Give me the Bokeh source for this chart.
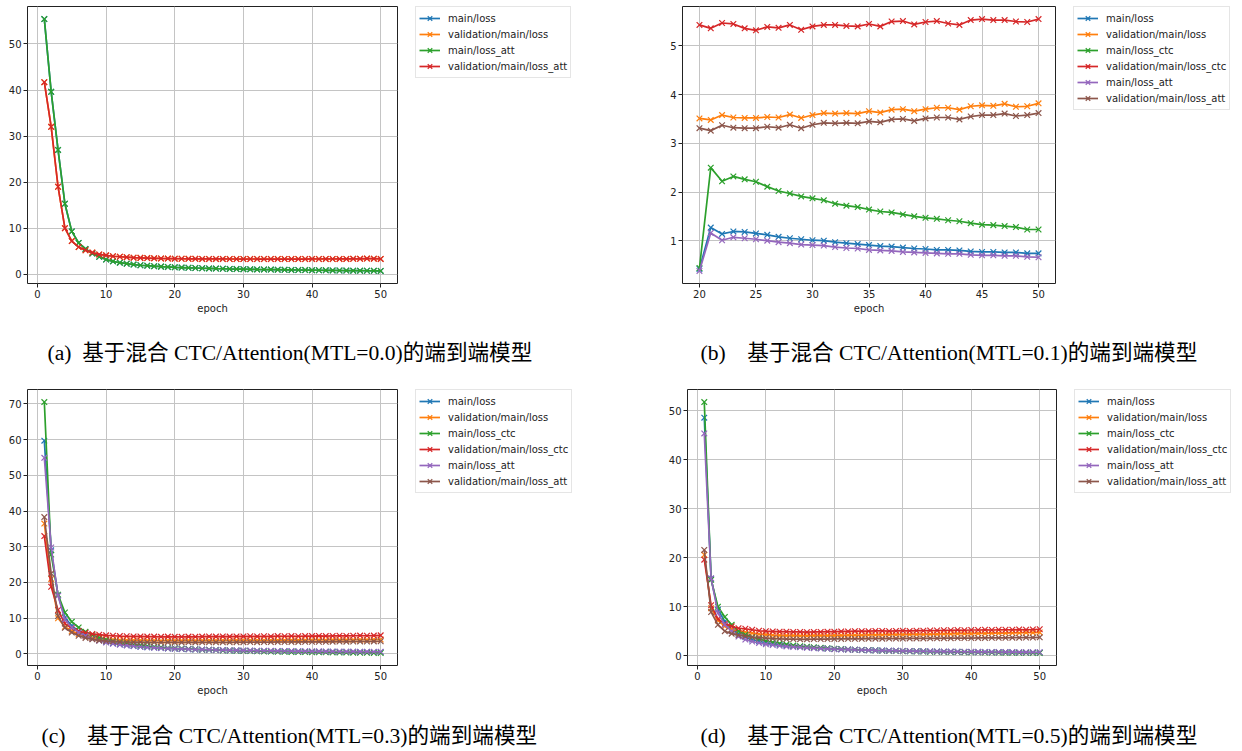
from bokeh.plotting import figure
from bokeh.models import Legend, LegendItem, Label, FixedTicker, Spacer, Range1d
from bokeh.layouts import column, row
from bokeh.embed import file_html
from bokeh.resources import INLINE

# ---------------- data ----------------
epochs_full = list(range(1, 51))
epochs_b = list(range(20, 51))

labels4 = ["main/loss", "validation/main/loss", "main/loss_att", "validation/main/loss_att"]
labels6 = ["main/loss", "validation/main/loss", "main/loss_ctc", "validation/main/loss_ctc",
           "main/loss_att", "validation/main/loss_att"]

# (a) MTL=0.0  (main/loss identical to main/loss_att, validation likewise)
a_att = [55.4, 39.6, 27.0, 15.3, 9.3, 6.8, 5.5, 4.5, 3.8, 3.2, 2.8, 2.5, 2.3, 2.1, 1.95, 1.85, 1.75, 1.65,
         1.58, 1.5, 1.45, 1.4, 1.35, 1.3, 1.26, 1.22, 1.19, 1.15, 1.12, 1.1, 1.07, 1.04, 1.02, 1.0, 0.98,
         0.96, 0.94, 0.92, 0.9, 0.88, 0.86, 0.85, 0.83, 0.81, 0.8, 0.78, 0.77, 0.75, 0.74, 0.72]
a_val_att = [41.7, 32.0, 19.0, 10.0, 7.2, 5.9, 5.2, 4.7, 4.3, 4.1, 3.9, 3.8, 3.7, 3.6, 3.55, 3.5, 3.45, 3.42,
             3.4, 3.38, 3.36, 3.35, 3.34, 3.33, 3.33, 3.32, 3.32, 3.31, 3.31, 3.3, 3.31, 3.3, 3.31, 3.3, 3.3,
             3.31, 3.3, 3.31, 3.3, 3.32, 3.31, 3.32, 3.31, 3.33, 3.32, 3.34, 3.35, 3.4, 3.38, 3.32]
a_loss = a_att
a_val_loss = a_val_att

# (b) MTL=0.1, epochs 20..50
b_loss = [0.42, 1.27, 1.14, 1.19, 1.18, 1.15, 1.12, 1.08, 1.05, 1.03, 1.01, 1.0, 0.97, 0.95, 0.93, 0.91,
          0.89, 0.88, 0.86, 0.84, 0.83, 0.81, 0.81, 0.8, 0.78, 0.77, 0.77, 0.76, 0.76, 0.74, 0.74]
b_val_loss = [3.51, 3.48, 3.58, 3.53, 3.52, 3.52, 3.54, 3.53, 3.59, 3.52, 3.58, 3.62, 3.61, 3.62, 3.61,
              3.66, 3.63, 3.69, 3.7, 3.66, 3.7, 3.73, 3.73, 3.69, 3.76, 3.78, 3.77, 3.81, 3.75, 3.76, 3.82]
b_ctc = [0.44, 2.5, 2.22, 2.32, 2.26, 2.21, 2.11, 2.02, 1.97, 1.91, 1.87, 1.83, 1.76, 1.72, 1.69, 1.64,
         1.6, 1.58, 1.54, 1.5, 1.47, 1.45, 1.42, 1.4, 1.36, 1.33, 1.32, 1.3, 1.28, 1.23, 1.23]
b_val_ctc = [5.43, 5.36, 5.47, 5.45, 5.36, 5.32, 5.39, 5.37, 5.43, 5.33, 5.4, 5.43, 5.43, 5.41, 5.4, 5.45,
             5.4, 5.5, 5.51, 5.44, 5.49, 5.51, 5.46, 5.43, 5.53, 5.55, 5.53, 5.53, 5.5, 5.49, 5.55]
b_att = [0.38, 1.16, 1.01, 1.07, 1.05, 1.03, 1.0, 0.97, 0.95, 0.92, 0.91, 0.9, 0.87, 0.85, 0.84, 0.81,
         0.8, 0.79, 0.77, 0.76, 0.75, 0.74, 0.73, 0.73, 0.71, 0.7, 0.7, 0.69, 0.69, 0.67, 0.66]
b_val_att = [3.31, 3.26, 3.37, 3.32, 3.31, 3.31, 3.34, 3.32, 3.38, 3.31, 3.38, 3.42, 3.41, 3.42, 3.41,
             3.45, 3.43, 3.49, 3.5, 3.46, 3.51, 3.53, 3.53, 3.49, 3.55, 3.58, 3.58, 3.61, 3.56, 3.58, 3.62]

# (c) MTL=0.3
c_loss = [59.7, 29.0, 16.4, 10.2, 7.9, 6.4, 5.3, 4.5, 3.9, 3.4, 3.0, 2.7, 2.45, 2.25, 2.05, 1.9, 1.78,
          1.66, 1.56, 1.47, 1.39, 1.32, 1.25, 1.19, 1.13, 1.08, 1.03, 0.99, 0.95, 0.91, 0.88, 0.85, 0.82,
          0.79, 0.76, 0.74, 0.71, 0.69, 0.67, 0.65, 0.63, 0.61, 0.59, 0.58, 0.56, 0.55, 0.53, 0.52, 0.5, 0.49]
c_val_loss = [36.5, 21.0, 10.0, 7.6, 6.4, 5.5, 4.9, 4.5, 4.3, 4.1, 4.0, 3.9, 3.85, 3.8, 3.8, 3.75, 3.75,
              3.7, 3.75, 3.72, 3.72, 3.75, 3.72, 3.75, 3.78, 3.75, 3.78, 3.76, 3.8, 3.8, 3.82, 3.8, 3.84,
              3.82, 3.86, 3.85, 3.88, 3.86, 3.9, 3.9, 3.92, 3.9, 3.94, 3.96, 3.95, 3.98, 4.0, 3.98, 4.02, 4.05]
c_ctc = [70.5, 27.8, 16.6, 11.6, 9.0, 7.4, 6.2, 5.3, 4.6, 4.0, 3.6, 3.2, 2.9, 2.6, 2.4, 2.2, 2.0, 1.85,
         1.7, 1.6, 1.5, 1.4, 1.3, 1.2, 1.15, 1.08, 1.0, 0.95, 0.9, 0.85, 0.8, 0.76, 0.72, 0.68, 0.65, 0.62,
         0.58, 0.55, 0.52, 0.5, 0.47, 0.45, 0.42, 0.4, 0.38, 0.36, 0.34, 0.32, 0.3, 0.28]
c_val_ctc = [33.0, 18.8, 12.3, 8.5, 7.2, 6.4, 5.9, 5.6, 5.4, 5.2, 5.1, 5.0, 4.95, 4.9, 4.9, 4.85, 4.85,
             4.8, 4.85, 4.8, 4.8, 4.85, 4.8, 4.85, 4.9, 4.85, 4.9, 4.85, 4.9, 4.9, 4.95, 4.9, 4.95, 4.9,
             5.0, 4.95, 5.0, 4.95, 5.0, 5.0, 5.05, 5.0, 5.05, 5.1, 5.05, 5.1, 5.15, 5.1, 5.15, 5.2]
c_att = [54.9, 29.8, 16.3, 9.6, 7.4, 6.0, 5.0, 4.2, 3.7, 3.2, 2.85, 2.6, 2.4, 2.2, 2.02, 1.88, 1.76, 1.65,
         1.56, 1.48, 1.41, 1.34, 1.28, 1.23, 1.18, 1.13, 1.09, 1.05, 1.02, 0.98, 0.95, 0.92, 0.9, 0.87,
         0.85, 0.83, 0.81, 0.79, 0.77, 0.75, 0.73, 0.72, 0.7, 0.69, 0.67, 0.66, 0.65, 0.64, 0.62, 0.61]
c_val_att = [38.3, 22.5, 10.6, 7.3, 6.0, 5.1, 4.5, 4.1, 3.8, 3.6, 3.5, 3.4, 3.35, 3.3, 3.3, 3.25, 3.25,
             3.2, 3.25, 3.22, 3.22, 3.25, 3.22, 3.25, 3.28, 3.25, 3.28, 3.26, 3.3, 3.3, 3.32, 3.3, 3.34,
             3.32, 3.36, 3.35, 3.38, 3.36, 3.4, 3.4, 3.42, 3.4, 3.44, 3.46, 3.45, 3.48, 3.5, 3.48, 3.52, 3.55]

# (d) MTL=0.5
d_loss = [48.6, 15.7, 9.4, 7.0, 5.4, 4.5, 3.8, 3.3, 2.95, 2.65, 2.45, 2.25, 2.1, 1.95, 1.82, 1.72, 1.62,
          1.53, 1.46, 1.39, 1.33, 1.27, 1.22, 1.17, 1.13, 1.09, 1.05, 1.02, 0.99, 0.96, 0.93, 0.91, 0.89,
          0.86, 0.84, 0.82, 0.8, 0.79, 0.77, 0.75, 0.74, 0.73, 0.71, 0.7, 0.69, 0.68, 0.67, 0.66, 0.65, 0.64]
d_val_loss = [20.6, 9.7, 7.2, 6.0, 5.4, 5.1, 4.8, 4.6, 4.4, 4.3, 4.2, 4.15, 4.1, 4.1, 4.05, 4.05, 4.1,
              4.1, 4.1, 4.15, 4.15, 4.2, 4.2, 4.2, 4.25, 4.25, 4.25, 4.3, 4.3, 4.3, 4.35, 4.35, 4.35, 4.4,
              4.4, 4.45, 4.45, 4.5, 4.5, 4.5, 4.55, 4.55, 4.6, 4.6, 4.6, 4.65, 4.65, 4.7, 4.7, 4.75]
d_ctc = [51.8, 15.5, 10.0, 7.9, 6.3, 5.0, 4.3, 3.8, 3.4, 3.0, 2.75, 2.5, 2.3, 2.1, 1.95, 1.82, 1.7, 1.6,
         1.5, 1.42, 1.35, 1.28, 1.22, 1.16, 1.11, 1.06, 1.02, 0.98, 0.95, 0.92, 0.89, 0.86, 0.84, 0.81,
         0.79, 0.77, 0.75, 0.73, 0.71, 0.69, 0.68, 0.66, 0.65, 0.63, 0.62, 0.6, 0.59, 0.58, 0.57, 0.56]
d_val_ctc = [19.6, 10.3, 7.5, 6.5, 6.0, 5.6, 5.5, 5.3, 5.1, 5.0, 4.95, 4.9, 4.9, 4.85, 4.85, 4.8, 4.85,
             4.85, 4.9, 4.9, 4.95, 4.95, 5.0, 5.0, 5.0, 5.05, 5.05, 5.0, 5.05, 5.1, 5.05, 5.1, 5.1, 5.15,
             5.15, 5.2, 5.2, 5.25, 5.2, 5.25, 5.25, 5.3, 5.25, 5.3, 5.3, 5.3, 5.35, 5.3, 5.35, 5.4]
d_att = [45.4, 15.8, 8.7, 6.3, 5.0, 3.9, 3.3, 2.9, 2.6, 2.35, 2.18, 2.03, 1.9, 1.8, 1.7, 1.61, 1.53, 1.46,
         1.4, 1.34, 1.29, 1.24, 1.19, 1.15, 1.12, 1.08, 1.05, 1.02, 0.99, 0.97, 0.95, 0.93, 0.91, 0.89,
         0.87, 0.85, 0.84, 0.82, 0.81, 0.8, 0.78, 0.77, 0.76, 0.75, 0.74, 0.73, 0.72, 0.71, 0.7, 0.7]
d_val_att = [21.6, 8.9, 6.3, 5.0, 4.5, 4.2, 4.0, 3.8, 3.7, 3.6, 3.5, 3.45, 3.4, 3.4, 3.35, 3.35, 3.4, 3.4,
             3.4, 3.42, 3.42, 3.45, 3.45, 3.45, 3.48, 3.48, 3.48, 3.5, 3.5, 3.5, 3.52, 3.52, 3.52, 3.55,
             3.55, 3.58, 3.58, 3.6, 3.6, 3.6, 3.62, 3.62, 3.65, 3.65, 3.65, 3.68, 3.68, 3.7, 3.7, 3.75]

xticks_a = [0, 10, 20, 30, 40, 50]
xticks_b = [20, 25, 30, 35, 40, 45, 50]
yticks_a = [0, 10, 20, 30, 40, 50]
yticks_b = [1, 2, 3, 4, 5]
yticks_c = [0, 10, 20, 30, 40, 50, 60, 70]
yticks_d = [0, 10, 20, 30, 40, 50]

captions = [
    "(a)\u00a0\u00a0基于混合 CTC/Attention(MTL=0.0)的端到端模型",
    "(b)\u00a0\u00a0\u00a0\u00a0基于混合 CTC/Attention(MTL=0.1)的端到端模型",
    "(c)\u00a0\u00a0\u00a0\u00a0基于混合 CTC/Attention(MTL=0.3)的端到端模型",
    "(d)\u00a0\u00a0\u00a0\u00a0基于混合 CTC/Attention(MTL=0.5)的端到端模型",
]

colors = ["#1f77b4", "#ff7f0e", "#2ca02c", "#d62728", "#9467bd", "#8c564b"]

FONT = "DejaVu Sans"
CAP_FONT = "Liberation Serif, Noto Sans CJK SC"


def make_panel(x, series, xticks, yticks, left, frame_w, frame_h, top, bottom):
    p = figure(frame_width=frame_w, frame_height=frame_h, output_backend="svg",
               toolbar_location=None, min_border_left=left, min_border_right=1,
               min_border_top=top, min_border_bottom=bottom)
    for i, ys in enumerate(series):
        c = colors[i]
        p.line(x, ys, line_color=c, line_width=1.7)
        p.scatter(x, ys, marker="x", size=8, line_color=c, line_width=1.2)

    xax = p.below[0]
    yax = p.left[0]
    xax.ticker = FixedTicker(ticks=xticks)
    yax.ticker = FixedTicker(ticks=yticks)
    xax.axis_label = "epoch"
    xax.axis_label_text_font = FONT
    xax.axis_label_text_font_size = "10px"
    xax.axis_label_text_font_style = "normal"
    xax.axis_label_text_color = "#222222"
    xax.axis_label_standoff = 2
    for ax in (xax, yax):
        ax.major_label_text_font = FONT
        ax.major_label_text_font_size = "10px"
        ax.major_label_text_color = "#222222"
        ax.major_label_standoff = 2
        ax.major_tick_out = 4
        ax.major_tick_in = 0
        ax.major_tick_line_color = "#222222"
        ax.minor_tick_line_color = None
        ax.axis_line_color = None
    p.grid.grid_line_color = "#c4c4c4"
    p.grid.grid_line_width = 1
    p.outline_line_color = "#222222"
    p.outline_line_alpha = 1
    p.outline_line_width = 1
    return p


def make_legend(x, series, labels, width, height, top):
    # a separate frame that only carries the legend; its series lie outside its ranges
    q = figure(width=width, height=height, output_backend="svg", toolbar_location=None,
               x_axis_type=None, y_axis_type=None, x_range=Range1d(-20, -10),
               y_range=Range1d(-20, -10), min_border_left=0, min_border_right=0,
               min_border_top=top, min_border_bottom=0)
    q.outline_line_color = None
    items = []
    for i, (ys, lab) in enumerate(zip(series, labels)):
        c = colors[i]
        lr = q.line(x, ys, line_color=c, line_width=1.7)
        sr = q.scatter(x, ys, marker="x", size=8, line_color=c, line_width=1.2)
        items.append(LegendItem(label=lab, renderers=[lr, sr]))
    legend = Legend(items=items, location="top_left", margin=0,
                    padding=3, spacing=-1, label_height=12, glyph_height=16, glyph_width=21,
                    label_standoff=8, label_text_font=FONT, label_text_font_size="10px",
                    label_text_color="#222222", border_line_color="#cccccc",
                    border_line_width=1, background_fill_alpha=0.8)
    q.add_layout(legend)
    return q


def make_captions(texts, xs, height, y_from_bottom):
    r = figure(width=1242, height=height, output_backend="svg", toolbar_location=None,
               x_axis_type=None, y_axis_type=None, x_range=Range1d(0, 1), y_range=Range1d(0, 1),
               min_border=0)
    r.outline_line_color = None
    for t, xx in zip(texts, xs):
        r.add_layout(Label(x=xx, y=y_from_bottom, x_units="screen", y_units="screen", text=t,
                           text_font=CAP_FONT, text_font_size="21.6px", text_color="black",
                           text_baseline="middle", text_align="left"))
    return r


sa = [a_loss, a_val_loss, a_att, a_val_att]
sb = [b_loss, b_val_loss, b_ctc, b_val_ctc, b_att, b_val_att]
sc = [c_loss, c_val_loss, c_ctc, c_val_ctc, c_att, c_val_att]
sd = [d_loss, d_val_loss, d_ctc, d_val_ctc, d_att, d_val_att]

pa = make_panel(epochs_full, sa, xticks_a, yticks_a, 27, 370, 277, 6, 34)
pb = make_panel(epochs_b, sb, xticks_b, yticks_b, 40, 373, 277, 6, 34)
pc = make_panel(epochs_full, sc, xticks_a, yticks_c, 27, 370, 276, 6, 34)
pd_ = make_panel(epochs_full, sd, xticks_a, yticks_d, 45, 369, 276, 6, 34)

la = make_legend(epochs_full, sa, labels4, 166, 317, 5)
lb = make_legend(epochs_b, sb, labels6, 166, 317, 6)
lc = make_legend(epochs_full, sc, labels6, 166, 316, 6)
ld = make_legend(epochs_full, sd, labels6, 166, 316, 6)

cap1 = make_captions(captions[:2], [47, 700], 66, 31)
cap2 = make_captions(captions[2:], [41, 700], 52, 16)

layout = column(
    row(pa, Spacer(width=17), la, Spacer(width=61), pb, Spacer(width=17), lb),
    cap1,
    row(pc, Spacer(width=17), lc, Spacer(width=61), pd_, Spacer(width=17), ld),
    cap2,
)
open("out.html", "w").write(file_html(layout, INLINE))
